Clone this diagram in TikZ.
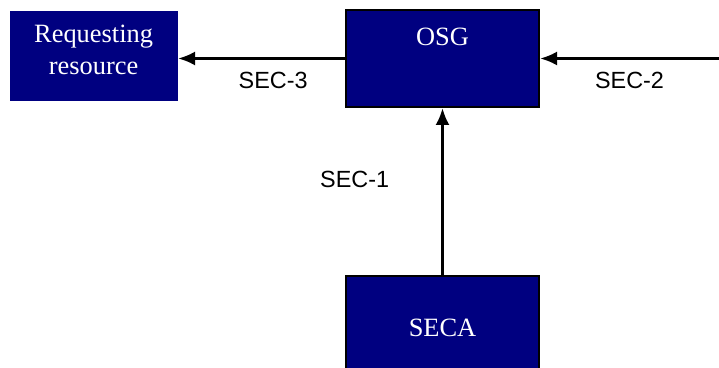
\documentclass[tikz,border=0pt]{standalone}
\usepackage{fontspec}
\setmainfont{Liberation Serif}
\setsansfont{Liberation Sans}
\usetikzlibrary{arrows.meta,positioning}
\definecolor{cbox}{HTML}{000080}

\begin{document}
\begin{tikzpicture}[
    x=0.5pt, y=-0.5pt,
    node distance=83.5pt,
    rnode/.style={fill=cbox, text=white, align=center, inner sep=0pt,
                  minimum width=84pt, minimum height=45pt,
                  font=\fontsize{13.2}{16}\selectfont},
    snode/.style={draw=black, line width=1pt, fill=cbox, text=white, inner sep=0pt,
                  minimum width=96.5pt, minimum height=48.5pt,
                  font=\fontsize{13.2}{16}\selectfont},
    lbl/.style={inner sep=0pt, font=\sffamily\fontsize{11.7}{14}\selectfont},
    arr/.style={-{Latex[length=8.5pt,width=7pt]}, line width=1.4pt}
]
\clip (0,0) rectangle (719,368);
\node[snode, text depth=21.5pt] (osg) at (442.5,58.5) {OSG};
\node[rnode, text depth=6pt, left=of osg, yshift=1.25pt] (req) {Requesting\\resource};
\node[snode, minimum height=52pt, below=of osg] (seca) {SECA};
\coordinate (feed) at (719,58.5);
\draw[arr] (osg.west) -- (osg.west -| req.east) node[lbl, pos=0.43, below=6pt] {SEC-3};
\draw[arr] (feed) -- (osg.east) node[lbl, pos=0.5, below=6pt] {SEC-2};
\draw[arr] (seca) -- (osg) node[lbl, pos=0.575, left=26pt] {SEC-1};
\end{tikzpicture}
\end{document}
